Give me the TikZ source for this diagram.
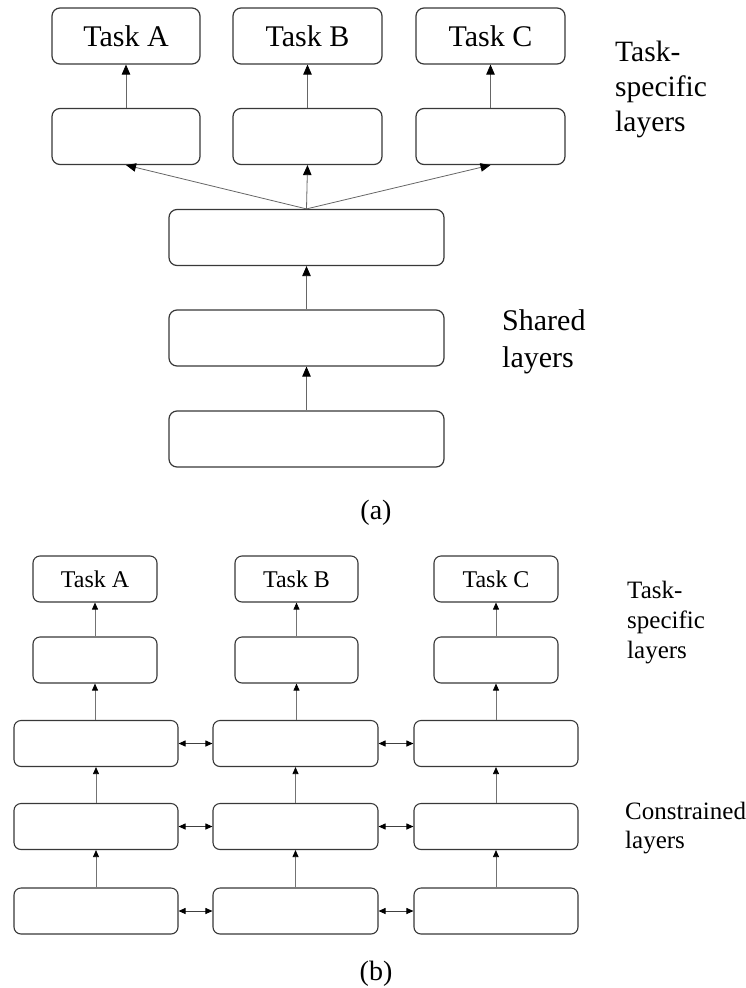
\documentclass[tikz,border=0pt]{standalone}
\usepackage{fontspec}
\setmainfont{Liberation Serif}
\usetikzlibrary{arrows.meta}

\begin{document}
\begin{tikzpicture}[x=1pt,y=-1pt,
    box/.style={draw=black!78,line width=1.2pt,rounded corners=8pt,inner sep=0pt},
    bigbox/.style={box,minimum height=56pt,font=\fontsize{30}{36}\selectfont},
    smallbox/.style={box,minimum height=46pt,line width=1.1pt,rounded corners=7pt,font=\fontsize{24}{29}\selectfont},
    uparrow/.style={draw=black!60,line width=0.8pt,-{Triangle[length=10pt,width=8.5pt,color=black]}},
    smallarrow/.style={draw=black!55,line width=0.8pt,-{Triangle[length=7pt,width=6pt,color=black]}},
    bothways/.style={draw=black!75,line width=0.9pt,{Triangle[length=7pt,width=6pt,color=black]}-{Triangle[length=7pt,width=6pt,color=black]}},
    sidelabel/.style={anchor=north west,inner sep=0pt,align=left}
  ]
    \useasboundingbox (0,0) rectangle (746,988);

    \node[bigbox,minimum width=148pt] (taskA) at (126,36) {Task A};
    \node[bigbox,minimum width=149pt] (taskB) at (307.5,36) {Task B};
    \node[bigbox,minimum width=149pt] (taskC) at (490.5,36) {Task C};
    \node[bigbox,minimum width=148pt] (specA) at (126,136.5) {};
    \node[bigbox,minimum width=149pt] (specB) at (307.5,136.5) {};
    \node[bigbox,minimum width=149pt] (specC) at (490.5,136.5) {};
    \node[bigbox,minimum width=275pt] (shared1) at (306.5,237.5) {};
    \node[bigbox,minimum width=275pt] (shared2) at (306.5,338) {};
    \node[bigbox,minimum width=275pt] (shared3) at (306.5,439) {};

    \draw[uparrow] (specA) -- (taskA);
    \draw[uparrow] (specB) -- (taskB);
    \draw[uparrow] (specC) -- (taskC);
    \draw[uparrow] (shared1.north) -- (specA.south);
    \draw[uparrow] (shared1.north) -- (specB.south);
    \draw[uparrow] (shared1.north) -- (specC.south);
    \draw[uparrow] (shared2) -- (shared1);
    \draw[uparrow] (shared3) -- (shared2);

    \node[sidelabel,font=\fontsize{29.5}{35}\selectfont] (speclabelA) at (615,41) {Task-\\specific\\layers};
    \node[sidelabel,font=\fontsize{30}{37}\selectfont] (sharedlabel) at (502,309) {Shared\\layers};
    \node[font=\fontsize{28}{34}\selectfont] (capA) at (376,513) {(a)};

    \node[smallbox,minimum width=124pt] (btaskA) at (95,579) {Task A};
    \node[smallbox,minimum width=123pt] (btaskB) at (296.5,579) {Task B};
    \node[smallbox,minimum width=124pt] (btaskC) at (496,579) {Task C};
    \node[smallbox,minimum width=124pt] (bspecA) at (95,660) {};
    \node[smallbox,minimum width=123pt] (bspecB) at (296.5,660) {};
    \node[smallbox,minimum width=124pt] (bspecC) at (496,660) {};
    \node[smallbox,minimum width=164pt] (conA1) at (96,743.5) {};
    \node[smallbox,minimum width=165pt] (conB1) at (295.5,743.5) {};
    \node[smallbox,minimum width=164pt] (conC1) at (496,743.5) {};
    \node[smallbox,minimum width=164pt] (conA2) at (96,826.5) {};
    \node[smallbox,minimum width=165pt] (conB2) at (295.5,826.5) {};
    \node[smallbox,minimum width=164pt] (conC2) at (496,826.5) {};
    \node[smallbox,minimum width=164pt] (conA3) at (96,911) {};
    \node[smallbox,minimum width=165pt] (conB3) at (295.5,911) {};
    \node[smallbox,minimum width=164pt] (conC3) at (496,911) {};

    \draw[smallarrow] (bspecA) -- (btaskA);
    \draw[smallarrow] (bspecB) -- (btaskB);
    \draw[smallarrow] (bspecC) -- (btaskC);
    \draw[smallarrow] (conA1.north -| bspecA) -- (bspecA);
    \draw[smallarrow] (conB1.north -| bspecB) -- (bspecB);
    \draw[smallarrow] (conC1) -- (bspecC);
    \draw[smallarrow] (conA2) -- (conA1);
    \draw[smallarrow] (conB2) -- (conB1);
    \draw[smallarrow] (conC2) -- (conC1);
    \draw[smallarrow] (conA3) -- (conA2);
    \draw[smallarrow] (conB3) -- (conB2);
    \draw[smallarrow] (conC3) -- (conC2);
    \draw[bothways] (conA1) -- (conB1);
    \draw[bothways] (conB1) -- (conC1);
    \draw[bothways] (conA2) -- (conB2);
    \draw[bothways] (conB2) -- (conC2);
    \draw[bothways] (conA3) -- (conB3);
    \draw[bothways] (conB3) -- (conC3);

    \node[sidelabel,font=\fontsize{25}{30}\selectfont] (speclabelB) at (627,581) {Task-\\specific\\layers};
    \node[sidelabel,font=\fontsize{25}{29}\selectfont] (conlabel) at (625,802) {Constrained\\layers};
    \node[font=\fontsize{28}{34}\selectfont] (capB) at (376,974) {(b)};
\end{tikzpicture}
\end{document}
